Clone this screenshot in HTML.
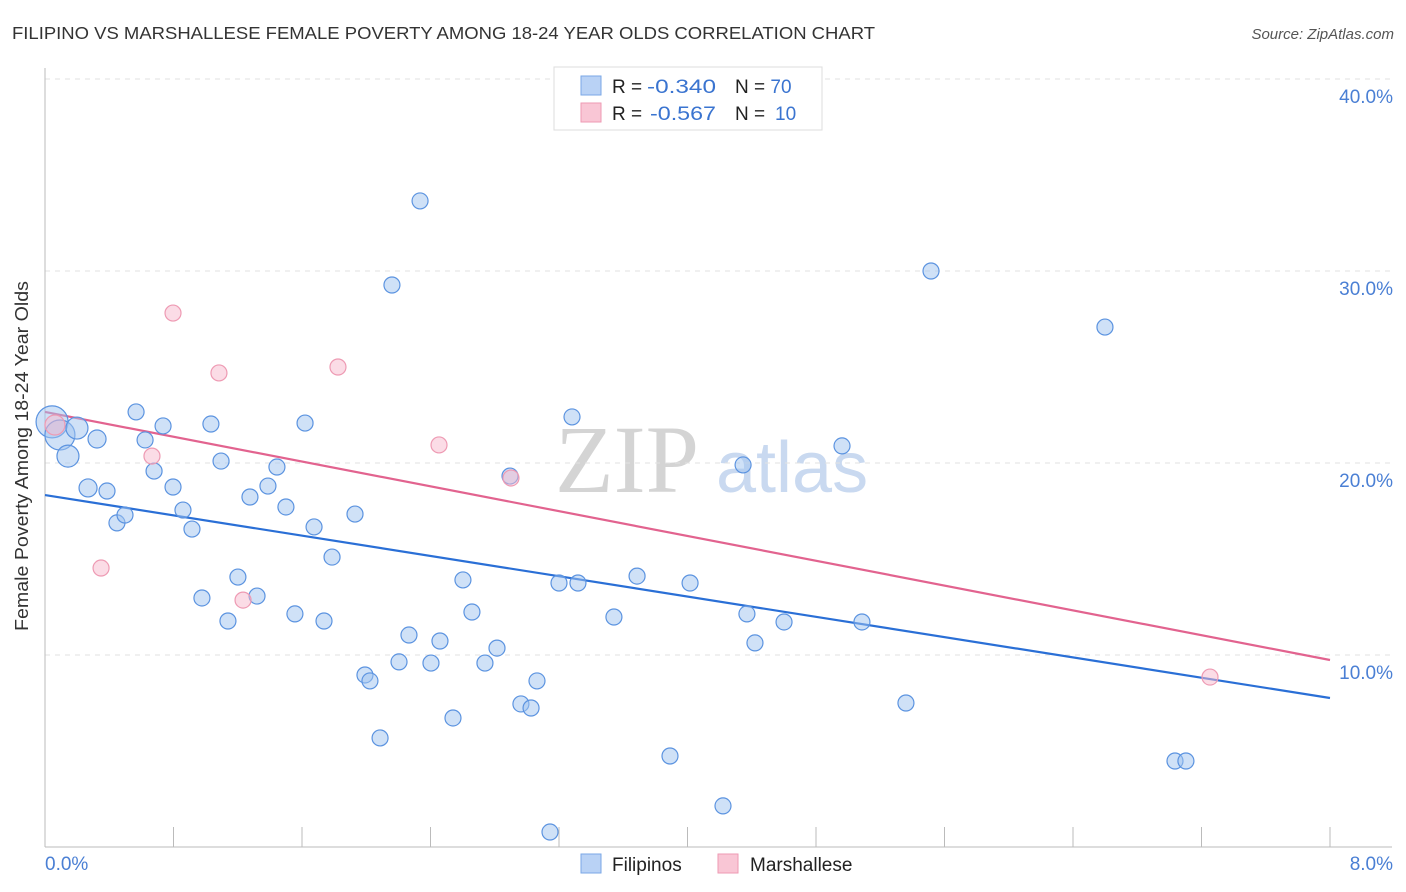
<!DOCTYPE html>
<html><head><meta charset="utf-8"><style>
body{margin:0;background:#fff;font-family:"Liberation Sans",sans-serif;}
svg{display:block}
</style></head><body>
<svg width="1406" height="892" xmlns="http://www.w3.org/2000/svg">
<text x="12" y="39" font-size="17.5" fill="#333" textLength="863" lengthAdjust="spacingAndGlyphs">FILIPINO VS MARSHALLESE FEMALE POVERTY AMONG 18-24 YEAR OLDS CORRELATION CHART</text>
<text x="1394" y="39" font-size="15" fill="#555" font-style="italic" text-anchor="end">Source: ZipAtlas.com</text>
<g>
<text x="555" y="492" font-size="96" fill="#d4d4d4" font-family="Liberation Serif,serif">ZIP</text>
<text x="716" y="492" font-size="72" fill="#c9d9f0">atlas</text>
</g>
<g id="grid"></g>
<g id="axes"></g>
<g id="lines"></g>
<g id="points"></g>
<text x="28" y="456" font-size="18" fill="#333" text-anchor="middle" textLength="350" lengthAdjust="spacingAndGlyphs" transform="rotate(-90 28 456)">Female Poverty Among 18-24 Year Olds</text>
<g>
<rect x="554" y="67" width="268" height="63" fill="#fff" stroke="#ddd"/>
<rect x="581" y="76" width="20" height="19" fill="#b9d2f5" stroke="#7aa7e6"/>
<rect x="581" y="103" width="20" height="19" fill="#f9c6d5" stroke="#ee9ab3"/>
<text x="612" y="93" font-size="19" fill="#222">R = <tspan x="647" textLength="69" lengthAdjust="spacingAndGlyphs" fill="#3a74d0">-0.340</tspan></text>
<text x="735" y="93" font-size="19" fill="#222">N = <tspan fill="#3a74d0">70</tspan></text>
<text x="612" y="120" font-size="19" fill="#222">R = <tspan x="650" textLength="66" lengthAdjust="spacingAndGlyphs" fill="#3a74d0">-0.567</tspan></text>
<text x="735" y="120" font-size="19" fill="#222">N = <tspan x="775" fill="#3a74d0">10</tspan></text>
</g>
<g>
<rect x="581" y="854" width="20" height="19" fill="#b9d2f5" stroke="#7aa7e6"/>
<text x="612" y="871" font-size="19" fill="#222">Filipinos</text>
<rect x="718" y="854" width="20" height="19" fill="#f9c6d5" stroke="#ee9ab3"/>
<text x="750" y="871" font-size="19" fill="#222">Marshallese</text>
</g>
</svg>
<script>
const yTicks=[10,20,30,40];
const yTickLabels=["10.0%","20.0%","30.0%","40.0%"];
const xTicks=[0.8,1.6,2.4,3.2,4.0,4.8,5.6,6.4,7.2,8.0];
const xEndLabels=["0.0%","8.0%"];
const filX=[.044,.093,.143,.199,.324,.268,.386,.448,.498,.567,.623,.679,.735,.797,.859,.915,.977,1.033,1.096,1.139,1.201,1.276,1.320,1.388,1.444,1.500,1.556,1.619,1.675,1.737,1.787,1.930,1.992,2.023,2.086,2.160,2.204,2.266,2.335,2.403,2.459,2.540,2.602,2.658,2.739,2.814,2.895,2.963,3.026,3.063,3.144,3.200,3.281,3.318,3.542,3.686,3.891,4.016,4.221,4.346,4.370,4.420,4.601,4.962,5.086,5.360,5.516,6.599,7.035,7.103];
const filY=[22.14,21.46,20.36,21.82,21.25,18.70,18.54,16.88,17.29,22.66,21.20,19.58,21.93,18.75,17.55,16.56,12.97,22.03,20.10,11.77,14.06,18.23,13.07,18.80,19.79,17.71,12.14,22.08,16.67,11.77,15.10,17.34,8.96,8.65,5.68,29.27,9.64,11.04,33.65,9.58,10.73,6.72,13.91,12.24,9.58,10.36,19.32,7.45,7.24,8.65,0.78,13.75,22.40,13.75,11.98,14.11,4.74,13.75,2.14,19.90,12.14,10.63,11.72,20.89,11.72,7.50,30.00,27.08,4.48,4.48];
const filR=[16,15,11,11,9,9,8,8,8,8,8,8,8,8,8,8,8,8,8,8,8,8,8,8,8,8,8,8,8,8,8,8,8,8,8,8,8,8,8,8,8,8,8,8,8,8,8,8,8,8,8,8,8,8,8,8,8,8,8,8,8,8,8,8,8,8,8,8,8,8];
const marX=[.062,.349,.666,.797,1.083,1.233,1.824,2.453,2.901,7.253];
const marY=[21.98,14.53,20.36,27.81,24.69,12.86,25.00,20.94,19.22,8.85];
const marR=[10,8,8,8,8,8,8,8,8,8];
const filLineX=[0,8];const filLineY=[18.33,7.76];
const marLineX=[0,8];const marLineY=[22.66,9.74];
const X=v=>45+v*160.625, Y=v=>847-v*19.2;
const NS="http://www.w3.org/2000/svg";
function mk(parent,tag,attrs){const e=document.createElementNS(NS,tag);for(const k in attrs)e.setAttribute(k,attrs[k]);document.getElementById(parent).appendChild(e);return e;}
yTicks.forEach((t,i)=>{
 const g=mk('grid','line',{x1:45,x2:1392,y1:Y(t),y2:Y(t),stroke:'#e2e2e2','stroke-dasharray':'5,5'});
 
 
 const l=mk('axes','text',{x:1393,y:Y(t)+24,'font-size':19,fill:'#4a7fd4','text-anchor':'end'});
 l.textContent=yTickLabels[i];
 
 
});
const ax1=mk('axes','line',{x1:45,x2:45,y1:68,y2:847,stroke:'#bbb'});


const ax2=mk('axes','line',{x1:45,x2:1392,y1:847,y2:847,stroke:'#bbb'});


xTicks.forEach(t=>{
 const k=mk('axes','line',{x1:X(t),x2:X(t),y1:827,y2:847,stroke:'#bbb'});
 
 
});
const xl0=mk('axes','text',{x:45,y:870,'font-size':19,fill:'#4a7fd4'});
xl0.textContent=xEndLabels[0];


const xl1=mk('axes','text',{x:1393,y:870,'font-size':19,fill:'#4a7fd4','text-anchor':'end'});
xl1.textContent=xEndLabels[1];


filX.forEach((v,i)=>{
 const c=mk('points','circle',{cx:X(v),cy:Y(filY[i]),r:filR[i],fill:'rgba(160,195,240,0.5)',stroke:'#5b93e0','stroke-width':1.2});
 
 
});
marX.forEach((v,i)=>{
 const c=mk('points','circle',{cx:X(v),cy:Y(marY[i]),r:marR[i],fill:'rgba(248,185,205,0.5)',stroke:'#ee9ab3','stroke-width':1.2});
 
 
});
const fl=mk('lines','line',{x1:X(filLineX[0]),y1:Y(filLineY[0]),x2:X(filLineX[1]),y2:Y(filLineY[1]),stroke:'#2a6fd6','stroke-width':2.2});


const ml=mk('lines','line',{x1:X(marLineX[0]),y1:Y(marLineY[0]),x2:X(marLineX[1]),y2:Y(marLineY[1]),stroke:'#e2638f','stroke-width':2.2});


</script>
</body></html>
